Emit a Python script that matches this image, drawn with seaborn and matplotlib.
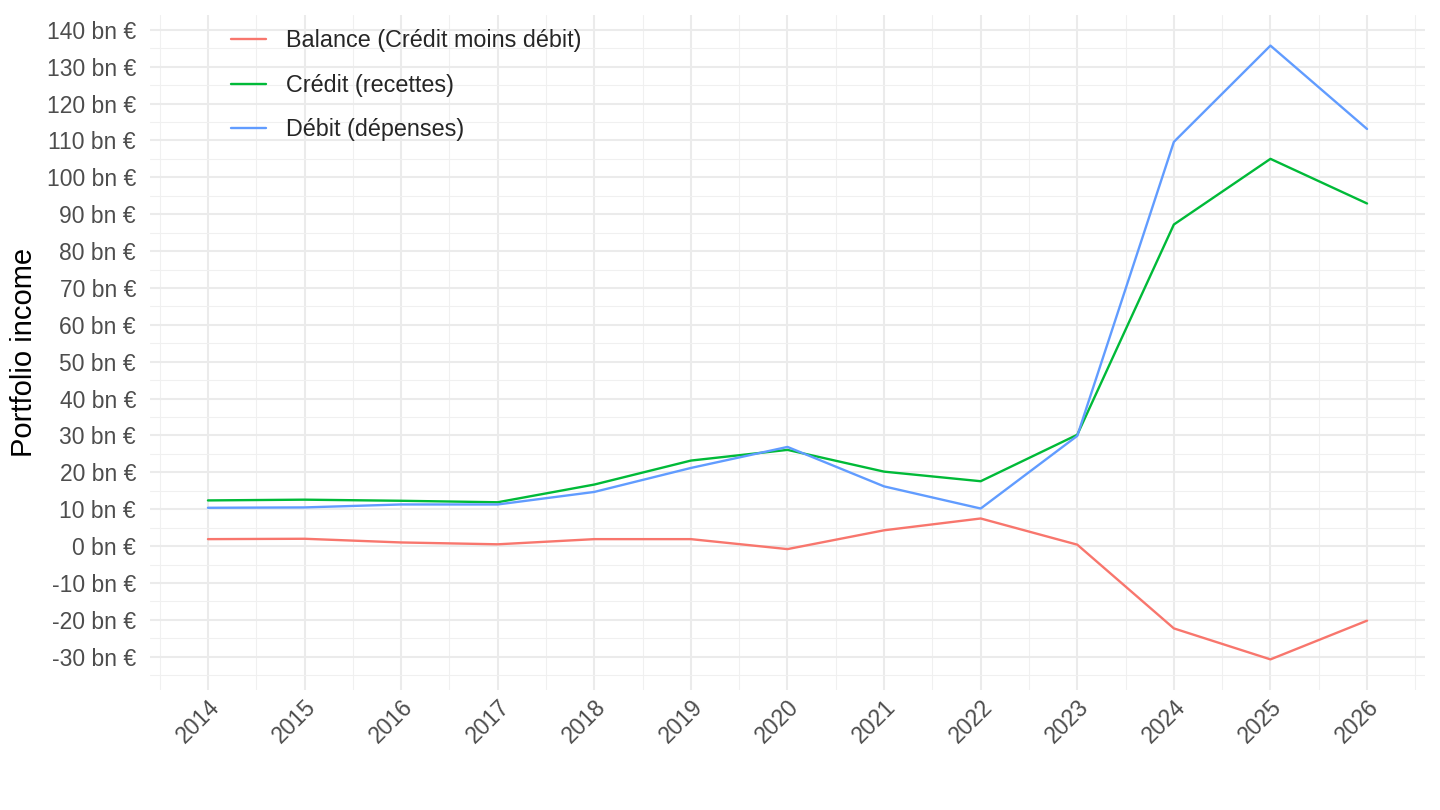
import numpy as np
import pandas as pd
import seaborn as sns
import matplotlib.pyplot as plt
from matplotlib.ticker import MultipleLocator, FuncFormatter

# Data
years = list(range(2014, 2027))
balance = [1.9, 2.0, 1.0, 0.5, 1.9, 1.9, -0.8, 4.3, 7.5, 0.4, -22.3, -30.7, -20.2]
credit = [12.4, 12.6, 12.3, 11.9, 16.7, 23.2, 26.1, 20.2, 17.6, 30.2, 87.2, 105.0, 92.9]
debit = [10.4, 10.5, 11.3, 11.3, 14.7, 21.2, 26.9, 16.2, 10.2, 29.9, 109.6, 135.7, 113.1]

series_names = ["Balance (Crédit moins débit)", "Crédit (recettes)", "Débit (dépenses)"]
colors = ["#F8766D", "#00BA38", "#619CFF"]

df = pd.DataFrame({
    "year": years * 3,
    "value": balance + credit + debit,
    "series": np.repeat(series_names, len(years)),
})

sns.set_theme(style="white")
plt.rcParams["font.family"] = ["Liberation Sans", "DejaVu Sans"]

fig = plt.figure(figsize=(14.4, 8.1), dpi=100)
ax = fig.add_axes([150 / 1440, 120 / 810, 1275 / 1440, 675 / 810])

sns.lineplot(data=df, x="year", y="value", hue="series", hue_order=series_names,
             palette=colors, linewidth=1.7, ax=ax)

ax.set_xlim(2013.4, 2026.6)
ax.set_ylim(-39, 144)

ax.xaxis.set_major_locator(MultipleLocator(1))
ax.xaxis.set_minor_locator(MultipleLocator(0.5))
ax.yaxis.set_major_locator(MultipleLocator(10))
ax.yaxis.set_minor_locator(MultipleLocator(5))
ax.yaxis.set_major_formatter(FuncFormatter(lambda v, p: f"{v:.0f} bn €"))

ax.grid(which="major", color="#EBEBEB", linewidth=1.5)
ax.grid(which="minor", color="#F0F0F0", linewidth=0.8)
ax.set_axisbelow(True)
for s in ax.spines.values():
    s.set_visible(False)

ax.tick_params(axis="both", which="both", length=0, labelsize=16.5, labelcolor="#4D4D4D")
ax.tick_params(axis="y", pad=10)
ax.tick_params(axis="x", pad=4)
plt.setp(ax.get_xticklabels(), rotation=45, ha="right", rotation_mode="anchor")

ax.set_xlabel("")
ax.set_ylabel("Portfolio income", fontsize=21, color="black", labelpad=6)

leg = ax.legend(loc="upper left", bbox_to_anchor=(0.047, 1.01), frameon=False,
                fontsize=16.8, labelspacing=0.92, handlelength=1.5, handletextpad=0.85,
                title=None)

fig.savefig("out.png", dpi=100)
